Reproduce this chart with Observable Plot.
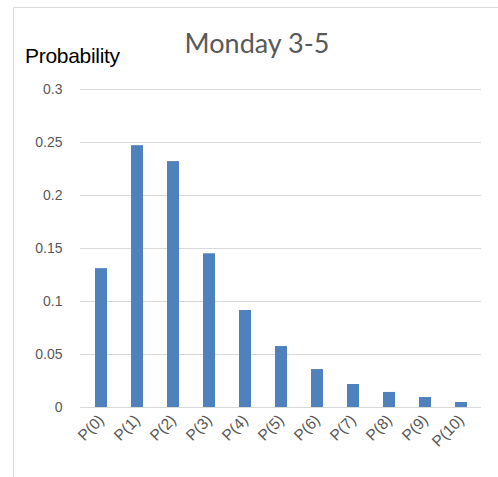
<!DOCTYPE html>
<html><head><meta charset="utf-8">
<script src="https://cdn.jsdelivr.net/npm/d3@7"></script>
<script src="https://cdn.jsdelivr.net/npm/@observablehq/plot@0.6"></script>
<style>
body{margin:0;background:#fff;}
#wrap{position:relative;width:498px;height:477px;overflow:hidden;font-family:Lato,"Open Sans",sans-serif;}
#frame{position:absolute;left:13px;top:7px;width:500px;height:480px;border-left:1px solid #d9d9d9;border-top:1px solid #d9d9d9;}
#title{position:absolute;left:0;width:514px;top:27px;text-align:center;font-size:27px;line-height:32px;color:#595959;}
#ylab{position:absolute;left:25px;top:44px;font-size:21px;line-height:24px;color:#000;font-family:"Liberation Sans",Arial,sans-serif;letter-spacing:-0.3px;}
#chart{position:absolute;left:0;top:0;}
</style></head>
<body><div id="wrap"><div id="frame"></div><div id="chart"></div><div id="title">Monday 3-5</div><div id="ylab">Probability</div></div>
<script>
const categories = ["P(0)","P(1)","P(2)","P(3)","P(4)","P(5)","P(6)","P(7)","P(8)","P(9)","P(10)"];
const values = [0.131,0.247,0.232,0.145,0.0915,0.0575,0.0358,0.0217,0.0142,0.0094,0.0047];
const yTicks = [0,0.05,0.1,0.15,0.2,0.25,0.3];
const data = categories.map((c,i)=>({c, v: values[i]}));
const chart = Plot.plot({
  width: 498, height: 477,
  marginLeft: 80, marginRight: 17, marginTop: 89, marginBottom: 70,
  style: {fontFamily: "'Liberation Sans', Arial, sans-serif", fontSize: "13px", color: "#595959", background: "transparent"},
  x: {domain: categories, paddingInner: 0.67, paddingOuter: 0.335, label: null},
  y: {domain: [0, 0.3], label: null},
  marks: [
    Plot.gridY(yTicks, {stroke: "#d9d9d9", strokeOpacity: 1, strokeWidth: 1}),
    Plot.barY(data, {x: "c", y: "v", fill: "#4f81bd"}),
    Plot.ruleY([0], {stroke: "#d9d9d9", strokeWidth: 1}),
    Plot.axisY(yTicks, {tickSize: 0, tickPadding: 18, tickFormat: d => String(d), fill: "#595959", fontSize: 14}),
    Plot.axisX({tickSize: 0, tickPadding: 10, tickRotate: -45, fill: "#595959", fontSize: 15.5})
  ]
});
document.getElementById("chart").appendChild(chart);
</script></body></html>
